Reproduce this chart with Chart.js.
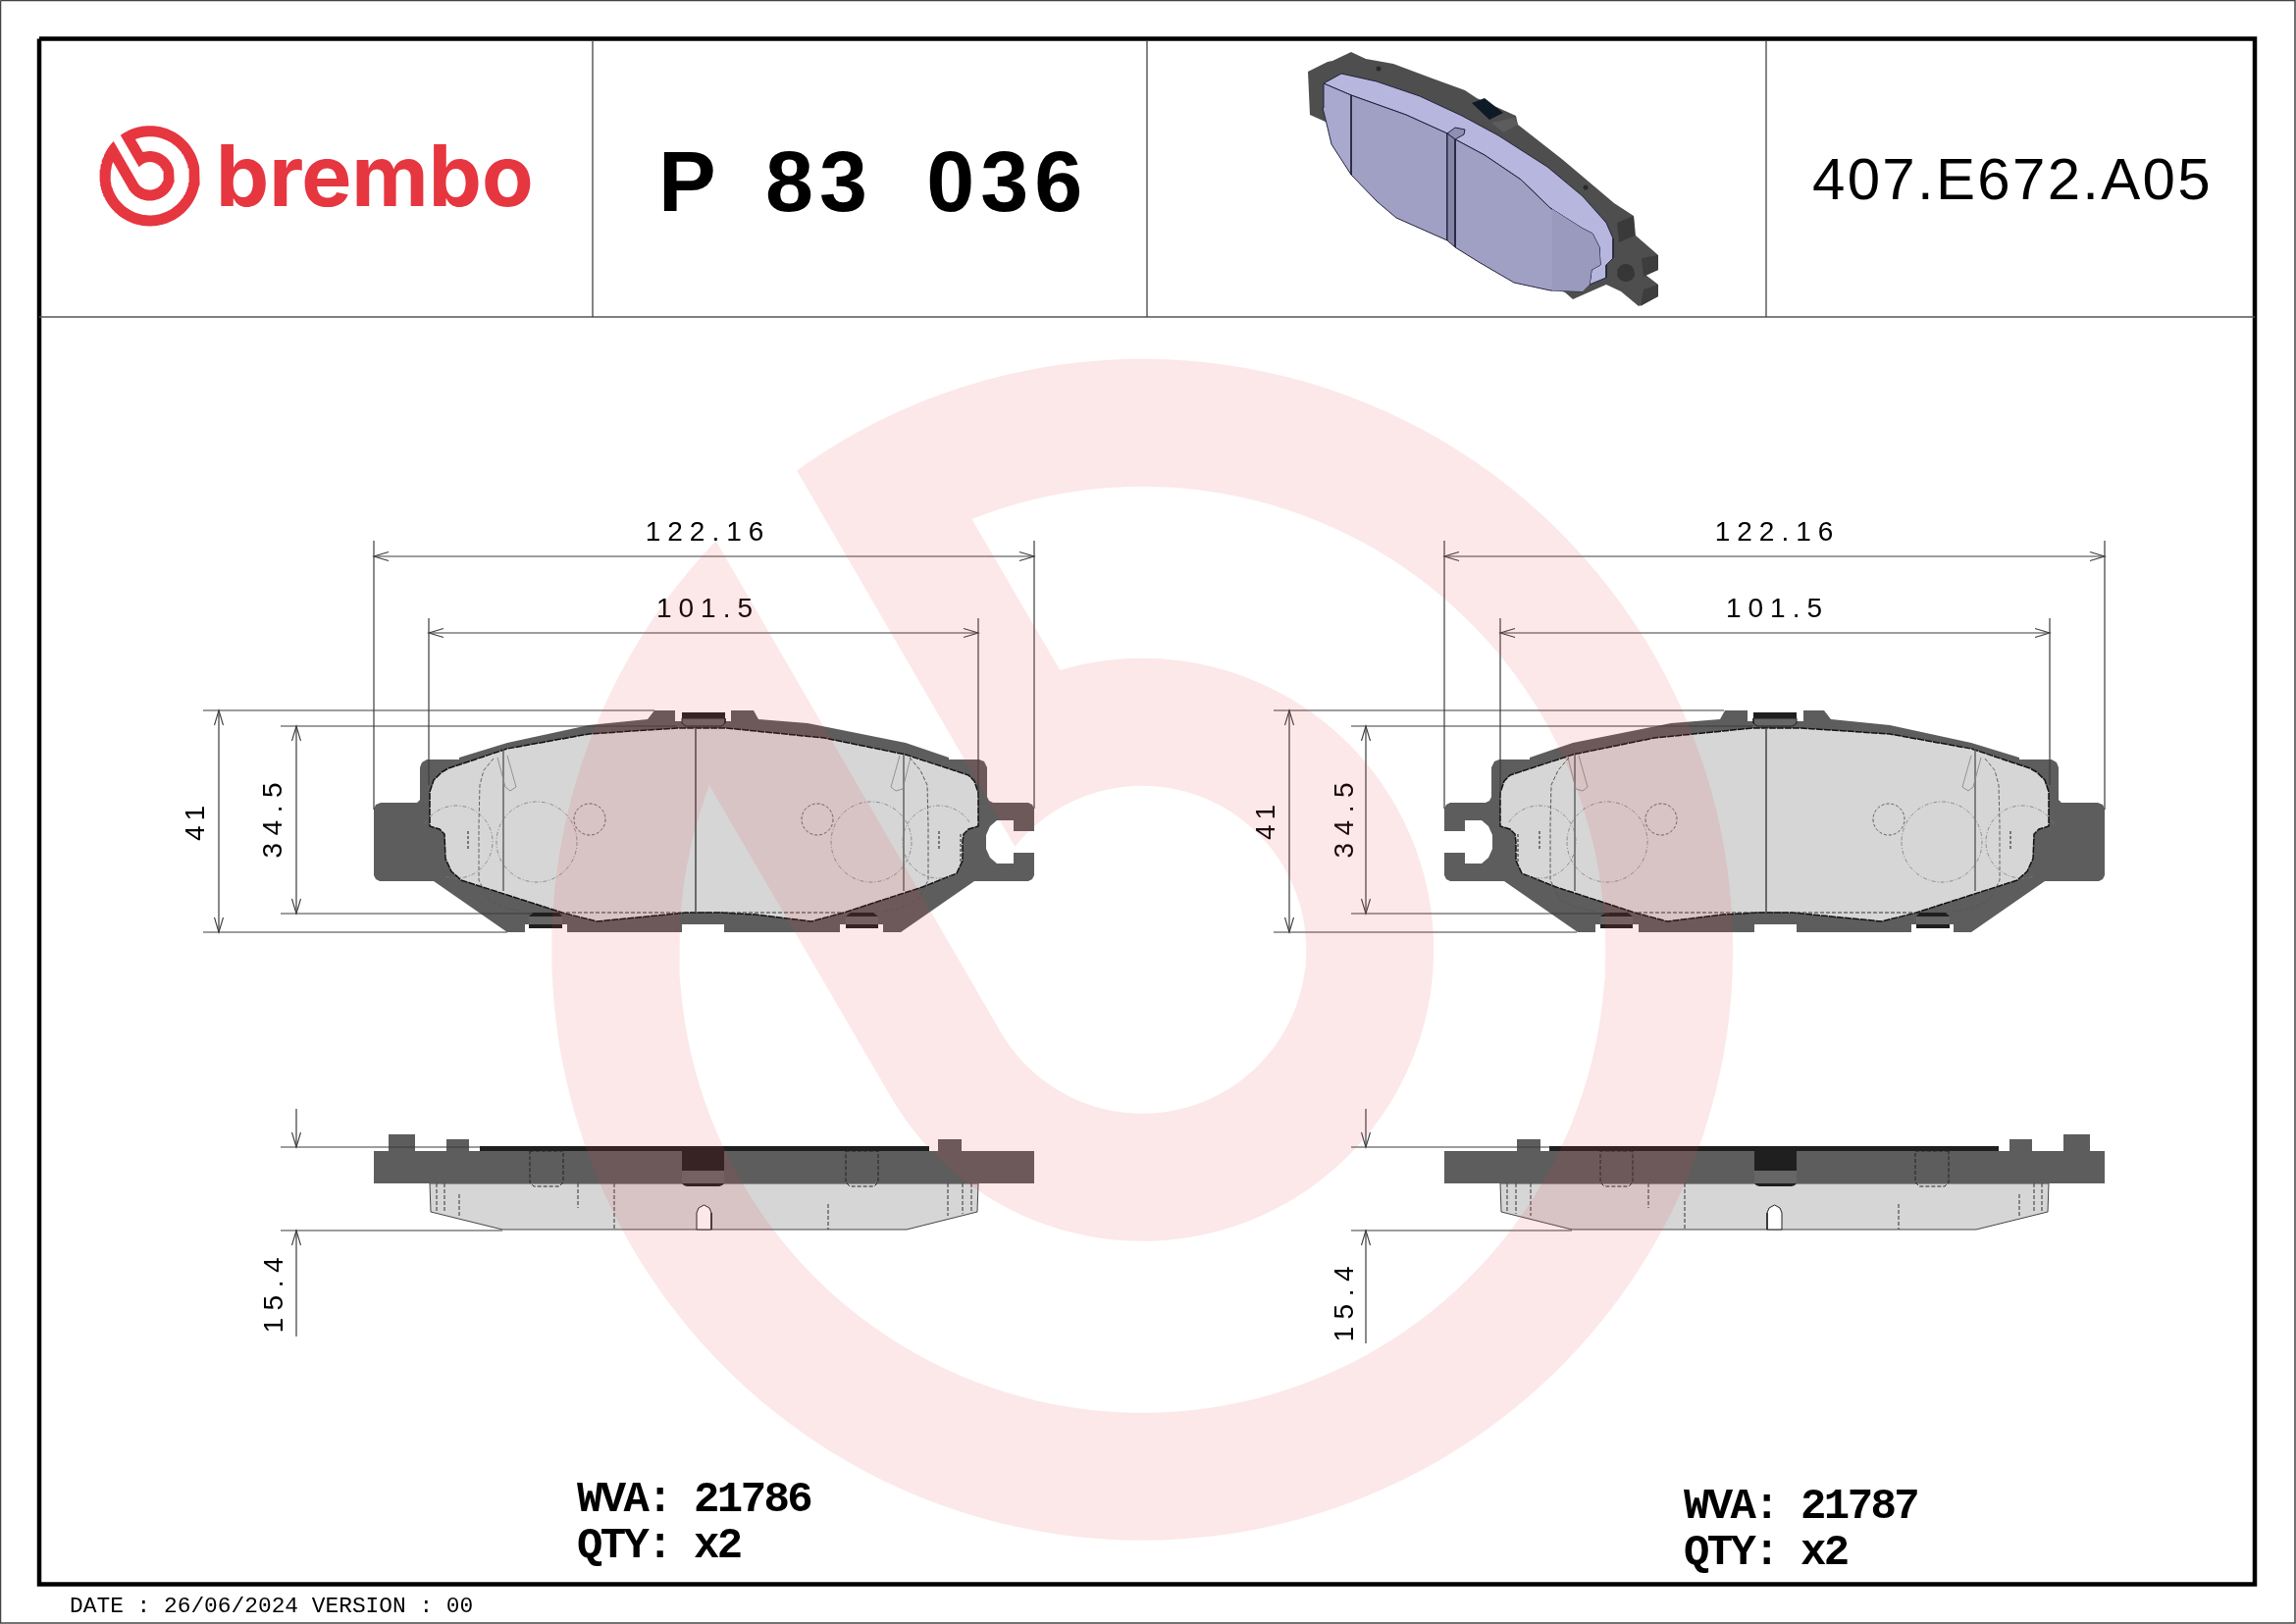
<!DOCTYPE html>
<html>
<head>
<meta charset="utf-8">
<title>P 83 036</title>
<script src="https://cdn.jsdelivr.net/npm/chart.js@4/dist/chart.umd.min.js"></script>
<style>
  html, body { margin: 0; padding: 0; background: #fff; }
  canvas { display: block; }
</style>
</head>
<body>
<canvas id="sheet" width="2340" height="1655"></canvas>
<script>
// ===== TEXT =====
const brandName = 'brembo';
const partPrefix = 'P';
const partDigits = '83 036';
const refCode = '407.E672.A05';
const overallLength = '122.16';
const backingLength = '101.5';
const overallHeight = '41';
const padHeight = '34.5';
const padThickness = '15.4';
const wvaLeft = 'WVA: 21786';
const wvaRight = 'WVA: 21787';
const qtyText = 'QTY: x2';
const dateLine = 'DATE : 26/06/2024 VERSION : 00';

// ===== SHEET FRAME (sheet pixels are the axis units) =====
const outerFrame = [[0.5, 0.5], [2339, 0.5], [2339, 1654], [0.5, 1654], [0.5, 0.5]];
const mainFrame = [[40, 39.5], [2298, 39.5], [2298, 1614.5], [40, 1614.5], [40, 39.5]];
const titleRule = [[40, 323], [2298, 323]];
const titleCols = [604, 1169, 1800];

// ===== FRONT VIEW, LEFT PAD (right pad is its mirror) =====
const plateFront = [[381,824],[383,820],[388,818],[425,818],[428,815],[428,782],[430,777],[435,774],[468,774],[468,772],[517,757],[600,739],[660,733],[667,724],[688,724],[688,735],[745,735],[745,724],[768,724],[773,733],[823,737],[873,747],[923,757],[967,772],[967,774],[998,774],[1003,776],[1006,782],[1006,812],[1008,816],[1012,818],[1048,818],[1052,820],[1054,824],[1054,847],[1033,847],[1033,836],[1016,836],[1009,842],[1005,851],[1005,865],[1009,874],[1016,880],[1033,880],[1033,869],[1054,869],[1054,892],[1052,896],[1048,898],[993,898],[918,950],[900,950],[900,942],[856,942],[856,950],[738,950],[738,942],[695,942],[695,950],[578,950],[578,942],[535,942],[535,950],[517,950],[442,898],[387,898],[383,896],[381,892],[381,824]];
const frictionFront = [[438,807],[442,795],[450,787],[457,783],[517,763],[600,748],[690,742],[740,742],[840,752],[923,769],[987,790],[993,796],[997,808],[997,842],[987,845],[982,850],[981,858],[981,877],[975,890],[940,904],[860,930],[827,939],[770,932],[733,930],[700,930],[608,939],[573,930],[470,897],[460,888],[454,875],[453,850],[448,845],[438,842],[438,807]];
const frictionChord = [[577, 930], [860, 930]];
const sideRules = [[[513, 763], [513, 908]], [[921, 769], [921, 908]]];
const centreRuleLeft = [[709, 742], [709, 930]];
const centreRuleRight = [[1800, 742], [1800, 930]];
const slotLeft = [[507,772],[515,802],[520,806],[526,802],[517,770]];
const slotRight = [[917,770],[908,802],[913,806],[920,804],[928,772]];
const tallArcLeft = [[503,773],[493,785],[489,800],[488,840],[488,897],[498,917],[515,925],[537,930]];
const tallArcRight = [[927,772],[938,785],[945,800],[946,840],[946,897],[936,917],[918,925],[897,930]];
const dotRules = [[[477, 847], [477, 865]], [[957, 847], [957, 865]], [[979, 850], [979, 880]]];
// circles: cx, cy, r, from, to (degrees)
const hiddenCircles = [
  [601, 835, 16, 0, 360], [833, 835, 16, 0, 360],
  [547, 858, 41, 0, 360], [888, 858, 41, 0, 360],
  [465, 858, 37, -150, 110], [957, 858, 37, 70, 330]
];
// clips: top, bottom left, bottom right
const clipTopDark = [[695,726],[739,726],[739,732],[695,732],[695,726]];
const clipTopBand = [[695,732],[739,732],[739,737],[735,740],[699,740],[695,737],[695,732]];
const clipLowTop = [[[543,930],[570,930],[573,934],[539,934]], [[867,930],[890,930],[895,934],[862,934]]];
const clipLowBand = [[[539,934],[573,934],[573,942],[539,942]], [[862,934],[895,934],[895,942],[862,942]]];
const clipLowFoot = [[[539,942],[573,942],[573,946],[539,946]], [[862,942],[895,942],[895,946],[862,946]]];

// ===== SIDE VIEW, LEFT PAD =====
const plateSide = [[381,1173],[396,1173],[396,1156],[423,1156],[423,1173],[455,1173],[455,1161],[478,1161],[478,1173],[956,1173],[956,1161],[980,1161],[980,1173],[1054,1173],[1054,1206],[381,1206],[381,1173]];
const shimSide = [[489,1168],[947,1168],[947,1173],[489,1173],[489,1168]];
const frictionSide = [[438,1206],[439,1235],[512,1253],[924,1253],[996,1235],[997,1206],[438,1206]];
const clipSideDark = [[695,1168],[738,1168],[738,1193],[695,1193],[695,1168]];
const clipSideBand = [[695,1193],[738,1193],[738,1206],[695,1206],[695,1193]];
const clipSideFoot = [[695,1206],[738,1206],[736,1208],[733,1209],[700,1209],[697,1208],[695,1206]];
const pocketLeft = [[540,1173],[574,1173],[574,1205],[570,1209],[544,1209],[540,1205],[540,1173]];
const pocketRight = [[862,1173],[895,1173],[895,1205],[891,1209],[866,1209],[862,1205],[862,1173]];
const archSide = [[710,1253],[710,1236],[712,1231],[717.5,1228],[723,1231],[725,1236],[725,1253],[710,1253]];
const sideDashes = [[[445,1206],[445,1235]], [[453,1206],[453,1236]], [[468,1217],[468,1241]], [[966,1206],[966,1239]], [[981,1206],[981,1237]], [[990,1206],[990,1236]]];
const sideDashesLeft = [[[589,1206],[589,1231]], [[626,1206],[626,1253]], [[844,1227],[844,1253]]];
const sideDashesRight = [[[1680,1206],[1680,1231]], [[1717,1206],[1717,1253]], [[1935,1227],[1935,1253]]];

// ===== DIMENSIONS =====
const dimMirrored = [
  [[381,567],[1054,567]], [[381,551],[381,825]], [[1054,551],[1054,824]],
  [[437,645],[997,645]], [[437,630],[437,800]], [[997,630],[997,812]]
];
const arrowsMirrored = [[381,567,1,0],[1054,567,-1,0],[437,645,1,0],[997,645,-1,0]];
const dimLeft = [
  [[223,724],[223,950]], [[207,724],[667,724]], [[207,950],[517,950]],
  [[302,740],[302,931]], [[286,740],[690,740]], [[286,931],[543,931]],
  [[302,1130],[302,1169]], [[286,1169],[489,1169]], [[286,1254],[512,1254]], [[302,1254],[302,1362]]
];
const arrowsLeft = [[223,724,0,1],[223,950,0,-1],[302,740,0,1],[302,931,0,-1],[302,1169,0,-1],[302,1254,0,1]];
const dimRight = [
  [[1314,724],[1314,950]], [[1298,724],[1757,724]], [[1298,950],[1607,950]],
  [[1392,740],[1392,931]], [[1377,740],[1786,740]], [[1377,931],[1640,931]],
  [[1392,1130],[1392,1169]], [[1377,1169],[1579,1169]], [[1377,1254],[1602,1254]], [[1392,1254],[1392,1369]]
];
const arrowsRight = [[1314,724,0,1],[1314,950,0,-1],[1392,740,0,1],[1392,931,0,-1],[1392,1169,0,-1],[1392,1254,0,1]];

// ===== 3D VIEW IN THE TITLE ROW =====
const heroPlate = [[1333,73],[1353,63],[1358,62],[1377,53],[1392,60],[1420,65],[1460,80],[1493,92],[1505,100],[1545,118],[1547,127],[1593,163],[1645,207],[1665,220],[1667,240],[1690,260],[1690,275],[1677,280],[1690,290],[1690,302],[1670,312],[1652,297],[1637,290],[1603,305],[1595,298],[1580,293],[1360,130],[1353,125],[1335,117],[1333,73]];
const heroTop = [[1349,85],[1367,75],[1403,83],[1447,98],[1490,118],[1527,138],[1577,170],[1613,200],[1637,227],[1644,243],[1644,263],[1637,270],[1637,283],[1620,290],[1622,275],[1631,270],[1630,252],[1623,238],[1613,233],[1580,212],[1550,183],[1513,158],[1483,142],[1475,136],[1433,117],[1377,97],[1349,85]];
const heroFrontA = [[1377,97],[1433,117],[1475,136],[1475,245],[1423,222],[1403,205],[1377,178],[1377,97]];
const heroEnd = [[1349,85],[1377,97],[1377,178],[1357,147],[1353,130],[1348,110],[1349,85]];
const heroSlot = [[1475,136],[1483,142],[1483,252],[1475,245],[1475,136]];
const heroSlotTop = [[1475,136],[1483,130],[1493,132],[1492,137],[1483,142],[1475,136]];
const heroFrontB = [[1483,142],[1513,158],[1550,183],[1580,212],[1613,233],[1623,238],[1630,252],[1631,270],[1622,275],[1620,290],[1613,297],[1580,296],[1543,288],[1507,267],[1483,252],[1483,142]];
const heroFrontShade = [[1582,213],[1613,233],[1623,238],[1630,252],[1631,270],[1622,275],[1620,290],[1613,297],[1582,296],[1582,213]];
const heroClip = [[1500,105],[1513,100],[1532,115],[1518,122],[1500,105]];
const heroTab = [[1520,125],[1543,120],[1547,127],[1532,135],[1520,125]];
const heroEarA = [[1648,227],[1665,220],[1666,240],[1650,247],[1648,227]];
const heroEarB = [[1673,263],[1690,260],[1690,275],[1675,282],[1673,263]];
const heroEarC = [[1675,295],[1690,290],[1690,302],[1672,312],[1675,295]];
const heroDots = [[1405,70],[1616,191]];

const markCentre = [1164.2, 967.8];
const markRadii = { outer: 602, ringIn: 472, coreOut: 297, hole: 167 };
const markAngles = { tipA: -125.8, tipB: 223.8, gapC: -111.6, gapD: -106.4, gapE: 200.8, holeStart: 150, holeEnd: -141, tangent: 150 };
const logoCentre = [152.7, 179.3];
const logoScale = 0.085;

// ===== HELPERS =====
function arcPoints(cx, cy, r, from, to) {
  const pts = [];
  const n = Math.max(6, Math.ceil(Math.abs(to - from) / 2));
  for (let i = 0; i <= n; i++) {
    const a = (from + (to - from) * i / n) * Math.PI / 180;
    pts.push([cx + r * Math.cos(a), cy + r * Math.sin(a)]);
  }
  return pts;
}

function markOutline(centre, k) {
  const [cx, cy] = centre;
  const R = markRadii, A = markAngles;
  const arc = (r, from, to) => arcPoints(cx, cy, r * k, from, to);
  return [
    ...arc(R.outer, A.tipA, A.gapC),
    // slit into the white ring, so the same fill keeps it empty
    ...arc(R.ringIn, A.gapC, A.gapC),
    ...arc(R.coreOut, A.gapD, A.tangent),
    ...arc(R.ringIn, A.gapE, A.gapC),
    ...arc(R.outer, A.gapC, A.tipB),
    ...arc(R.hole, A.holeStart, A.holeEnd)
  ];
}

const mirror = pts => pts.map(([x, y]) => [2526 - x, y]);
const toXY = pts => pts.map(([x, y]) => ({ x, y }));

// ===== DATASETS (pushed back to front) =====
const layers = [];

function shape(pts, style) {
  layers.push({
    data: toXY(pts),
    showLine: true,
    pointRadius: 0,
    clip: false,
    fill: style.fill ? 'shape' : false,
    backgroundColor: style.fill || 'transparent',
    borderColor: style.stroke || 'transparent',
    borderWidth: style.width || 0,
    borderDash: style.dash || []
  });
}

function arrow(a, color) {
  const [x, y, dx, dy] = a;
  const len = 15, half = 4.5;
  shape([[x + dx * len - dy * half, y + dy * len - dx * half], [x, y], [x + dx * len + dy * half, y + dy * len + dx * half]], { stroke: color, width: 1.1 });
}

const PLATE = '#5d5d5d', PAD = '#d6d6d6', INK = '#1f1f1f', RULE = '#3c3c3c';
const same = pts => pts;

function frontView(flip) {
  shape(flip(plateFront), { fill: PLATE });
  shape(flip(frictionFront), { fill: PAD, stroke: '#111', width: 1.5, dash: [7, 1] });
  shape(flip(frictionChord), { stroke: '#333', width: 1, dash: [4, 2] });
  sideRules.forEach(r => shape(flip(r), { stroke: '#5a5a5a', width: 1.4 }));
  shape(flip(slotLeft), { stroke: '#8a8a8a', width: 0.9 });
  shape(flip(slotRight), { stroke: '#8a8a8a', width: 0.9 });
  shape(flip(tallArcLeft), { stroke: '#555', width: 0.9, dash: [4, 2] });
  shape(flip(tallArcRight), { stroke: '#555', width: 1, dash: [4, 2] });
  dotRules.forEach(r => shape(flip(r), { stroke: '#777', width: 2, dash: [3, 2] }));
  hiddenCircles.forEach((c, i) => {
    shape(flip(arcPoints(...c)), { stroke: i < 2 ? '#333' : '#777', width: 0.8, dash: i < 2 ? [3, 2] : [4, 2, 1, 2] });
  });
  shape(flip(clipTopBand), { fill: '#666', stroke: '#222', width: 1 });
  shape(flip(clipTopDark), { fill: INK });
  clipLowBand.forEach(p => shape(flip(p), { fill: '#666' }));
  clipLowTop.forEach(p => shape(flip(p), { fill: INK }));
  clipLowFoot.forEach(p => shape(flip(p), { fill: INK }));
}

function sideView(flip) {
  shape(flip(frictionSide), { fill: PAD, stroke: '#444', width: 1 });
  shape(flip(plateSide), { fill: PLATE });
  shape(flip(shimSide), { fill: INK });
  shape(flip(clipSideBand), { fill: '#666' });
  shape(flip(clipSideFoot), { fill: INK });
  shape(flip(clipSideDark), { fill: INK });
  shape(flip(pocketLeft), { stroke: '#222', width: 1, dash: [4, 2] });
  shape(flip(pocketRight), { stroke: '#222', width: 1, dash: [4, 2] });
  shape(flip(archSide), { fill: '#fff', stroke: '#222', width: 1 });
  sideDashes.forEach(r => shape(flip(r), { stroke: '#333', width: 1, dash: [4, 2] }));
}

// frame
shape(outerFrame, { stroke: '#444', width: 1.5 });
shape(mainFrame, { stroke: '#000', width: 4.5 });
shape(titleRule, { stroke: '#555', width: 1.5 });
titleCols.forEach(x => shape([[x, 42], [x, 323]], { stroke: '#444', width: 1.3 }));

// 3D view
shape(heroPlate, { fill: '#4e4e4e' });
shape(heroTab, { fill: '#5c5c5c' });
shape(heroEarA, { fill: '#3a3a3a' });
shape(heroEarB, { fill: '#3d3d3d' });
shape(heroEarC, { fill: '#3d3d3d' });
shape(arcPoints(1657, 278, 9, 0, 360), { fill: '#363636' });
shape(heroClip, { fill: '#0e1a26' });
shape(heroTop, { fill: '#b6b6de', stroke: '#22223a', width: 1 });
shape(heroFrontA, { fill: '#a0a0c4', stroke: '#22223a', width: 1 });
shape(heroEnd, { fill: '#a9a9d0', stroke: '#22223a', width: 1 });
shape(heroFrontB, { fill: '#a0a0c4', stroke: '#22223a', width: 1 });
shape(heroFrontShade, { fill: '#9a9abe' });
shape(heroSlotTop, { fill: '#8f8fb5', stroke: '#22223a', width: 1 });
shape(heroSlot, { fill: '#8484a8', stroke: '#22223a', width: 1 });
layers.push({ data: toXY(heroDots), showLine: false, pointRadius: 2.5, pointBackgroundColor: '#2a2a2a', pointBorderWidth: 0 });

// pad drawings
frontView(same);
frontView(mirror);
shape(centreRuleLeft, { stroke: '#5a5a5a', width: 1 });
shape(centreRuleRight, { stroke: '#5a5a5a', width: 1 });
sideView(same);
sideView(mirror);
sideDashesLeft.forEach(r => shape(r, { stroke: '#333', width: 1, dash: [4, 2] }));
sideDashesRight.forEach(r => shape(r, { stroke: '#333', width: 1, dash: [4, 2] }));

// dimension lines
dimMirrored.forEach(l => { shape(l, { stroke: RULE, width: 1.2 }); shape(mirror(l), { stroke: RULE, width: 1.2 }); });
arrowsMirrored.forEach(a => {
  arrow(a, RULE);
  arrow([2526 - a[0], a[1], -a[2], a[3]], RULE);
});
dimLeft.forEach(l => shape(l, { stroke: RULE, width: 1.2 }));
dimRight.forEach(l => shape(l, { stroke: RULE, width: 1.2 }));
arrowsLeft.forEach(a => arrow(a, RULE));
arrowsRight.forEach(a => arrow(a, RULE));

// brand mark and watermark, the watermark tints everything under it
shape(markOutline(logoCentre, logoScale), { fill: '#e6363f' });
shape(markOutline(markCentre, 1), { fill: 'rgba(230,63,70,0.12)' });

// Chart.js paints dataset 0 last, so the back-to-front list is reversed
layers.reverse();

// ===== LABELS =====
const SANS = '"Liberation Sans", sans-serif';
const MONO = '"Liberation Mono", monospace';
const DIM = '28px ' + SANS;
const labelRows = [
  { t: brandName, x: 220, y: 210, font: '700 86px Inter, sans-serif', color: '#e6363f' },
  { t: partPrefix, x: 671, y: 215, font: 'bold 88px ' + SANS },
  { t: partDigits, x: 780, y: 215, font: 'bold 88px ' + SANS, ls: 6, word: 24 },
  { t: refCode, x: 1847, y: 203, font: '60px ' + SANS, ls: 2.3 },
  { t: overallLength, x: 718, y: 551, font: DIM, ls: 7, centre: true },
  { t: backingLength, x: 718, y: 629, font: DIM, ls: 7, centre: true },
  { t: overallLength, x: 1808, y: 551, font: DIM, ls: 7, centre: true },
  { t: backingLength, x: 1808, y: 629, font: DIM, ls: 7, centre: true },
  { t: overallHeight, x: 208, y: 839, font: DIM, ls: 5, centre: true, rot: true },
  { t: padHeight, x: 287, y: 836, font: DIM, ls: 7.5, centre: true, rot: true },
  { t: padThickness, x: 288, y: 1320, font: DIM, ls: 7.5, centre: true, rot: true },
  { t: overallHeight, x: 1299, y: 838, font: DIM, ls: 5, centre: true, rot: true },
  { t: padHeight, x: 1379, y: 836, font: DIM, ls: 7.5, centre: true, rot: true },
  { t: padThickness, x: 1379, y: 1329, font: DIM, ls: 7.5, centre: true, rot: true },
  { t: wvaLeft, x: 588, y: 1540, font: 'bold 44px ' + MONO, ls: -2.6 },
  { t: qtyText, x: 588, y: 1587, font: 'bold 44px ' + MONO, ls: -2.6 },
  { t: wvaRight, x: 1716, y: 1547, font: 'bold 44px ' + MONO, ls: -2.6 },
  { t: qtyText, x: 1716, y: 1594, font: 'bold 44px ' + MONO, ls: -2.6 },
  { t: dateLine, x: 71, y: 1643, font: '22.85px ' + MONO }
];

const labelPlugin = {
  id: 'sheetLabels',
  beforeDatasetsDraw(chart) {
    const { ctx, scales } = chart;
    labelRows.forEach(row => {
      ctx.save();
      ctx.translate(scales.x.getPixelForValue(row.x), scales.y.getPixelForValue(row.y));
      if (row.rot) ctx.rotate(-Math.PI / 2);
      ctx.font = row.font;
      ctx.fillStyle = row.color || '#000';
      ctx.textBaseline = 'alphabetic';
      ctx.textAlign = row.centre ? 'center' : 'left';
      ctx.letterSpacing = (row.ls || 0) + 'px';
      ctx.wordSpacing = (row.word || 0) + 'px';
      ctx.fillText(row.t, row.centre ? (row.ls || 0) / 2 : 0, 0);
      ctx.restore();
    });
  }
};

// ===== CHART =====
new Chart(document.getElementById('sheet'), {
  type: 'scatter',
  data: { datasets: layers },
  plugins: [labelPlugin],
  options: {
    responsive: false,
    animation: false,
    devicePixelRatio: 1,
    layout: { padding: 0, autoPadding: false },
    plugins: { legend: { display: false }, tooltip: { enabled: false } },
    scales: {
      x: { type: 'linear', min: 0, max: 2340, display: false },
      y: { type: 'linear', min: 0, max: 1655, reverse: true, display: false }
    }
  }
});
</script>
</body>
</html>
